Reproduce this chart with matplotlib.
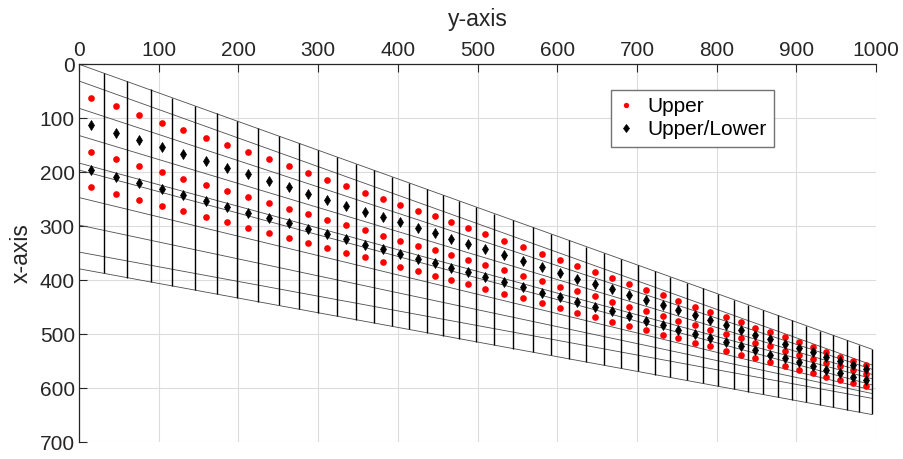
import numpy as np
import matplotlib
matplotlib.use("Agg")
from matplotlib import pyplot as plt

plt.rcParams['font.family'] = ['Liberation Sans', 'DejaVu Sans']

# column edges of the mesh (horizontal position) and the top / bottom line there
edge_x = [0, 31.0, 60.6, 90.0, 117.1, 144.9, 172.8, 198.6, 225.0, 250.6, 275.7, 299.5,
          323.3, 346.9, 369.8, 392.1, 413.7, 436.0, 456.1, 477.3, 497.7, 521.1, 544.9,
          569.3, 591.7, 614.3, 636.5, 658.3, 679.7, 701.0, 722.1, 742.0, 762.2, 782.3,
          801.4, 821.2, 839.0, 857.8, 876.4, 894.2, 911.8, 929.1, 945.4, 963.0, 978.9, 994.6]
edge_top = [0, 15.6, 30.9, 46.3, 62.3, 77.3, 90.8, 105.0, 118.6, 132.9, 146.5, 159.4,
            171.8, 184.1, 196.5, 208.2, 219.9, 231.0, 242.2, 253.4, 264.3, 276.7, 289.3,
            302.3, 314.2, 326.2, 338.0, 349.6, 360.9, 372.2, 383.4, 394.0, 404.7, 415.4,
            425.5, 436.1, 445.5, 455.5, 465.4, 474.8, 484.2, 493.4, 502.0, 511.4, 519.8, 528.1]
edge_bot = [379.0, 387.4, 395.4, 403.4, 410.8, 418.3, 425.9, 432.9, 440.1, 447.0, 453.8,
            460.3, 466.7, 473.1, 479.4, 485.4, 491.3, 497.3, 502.8, 508.5, 514.1, 520.4,
            526.9, 533.5, 539.6, 545.7, 551.7, 557.7, 563.5, 569.3, 575.0, 580.4, 585.9,
            591.3, 596.5, 601.9, 606.7, 611.8, 616.9, 621.7, 626.5, 631.2, 635.6, 640.4,
            644.7, 648.9]

# mesh layer lines: value at left end and at right end
line_left = [0, 31, 81.5, 132, 183, 196, 247, 298, 348, 379]
line_right = [528, 557, 565, 574.5, 582.5, 594, 603.5, 610, 619, 649]

# point columns
col_x = [15.5, 45.8, 75.3, 103.6, 131.0, 158.9, 185.7, 211.8, 237.8, 263.2, 287.6, 311.4,
         335.1, 358.4, 381.0, 402.9, 424.9, 446.1, 466.7, 487.5, 509.4, 533.0, 557.1,
         580.5, 603.0, 625.4, 647.4, 669.0, 690.4, 711.6, 732.1, 752.1, 772.3, 791.9,
         811.3, 830.1, 848.4, 867.1, 885.3, 903.0, 920.5, 937.3, 954.2, 971.0, 986.8]

upper_1 = [63, 78, 94, 108, 122, 136, 150, 163, 176, 189, 202, 214, 226, 238, 249, 261,
           272, 282, 293, 304, 315, 327, 339, 351, 362, 374, 385, 396, 407, 418, 428, 438,
           449, 459, 469, 478, 488, 497, 506, 515, 524, 533, 542, 550, 558]
upper_2 = [163, 176, 188, 200, 212, 224, 235, 246, 257, 268, 278, 288, 298, 308, 318, 327,
           336, 345, 354, 363, 372, 382, 392, 402, 412, 421, 430, 440, 449, 458, 466, 475,
           483, 492, 500, 508, 516, 523, 531, 539, 546, 553, 560, 567, 574]
upper_3 = [228, 240, 251, 262, 272, 283, 293, 303, 313, 322, 332, 341, 350, 358, 367, 375,
           384, 392, 400, 408, 416, 425, 434, 443, 451, 460, 468, 477, 485, 493, 501, 508,
           516, 523, 531, 538, 545, 552, 559, 566, 572, 579, 585, 591, 597]
ul_1 = [113, 127, 141, 154, 167, 180, 192, 204, 217, 228, 240, 251, 262, 273, 283, 293,
        304, 313, 323, 333, 343, 354, 365, 376, 386, 397, 407, 417, 427, 437, 447, 456,
        465, 474, 483, 492, 501, 509, 518, 526, 534, 542, 550, 558, 565]
ul_2 = [196, 208, 220, 231, 242, 254, 264, 275, 285, 295, 305, 315, 324, 334, 343, 351,
        360, 369, 377, 385, 394, 404, 413, 423, 432, 441, 450, 458, 467, 475, 483, 492,
        500, 507, 515, 523, 530, 538, 545, 552, 559, 566, 573, 579, 586]

fig = plt.figure(figsize=(9.04, 4.59), dpi=100)
ax = fig.add_axes([0.0874, 0.037, 0.8817, 0.823])

# mesh
for yl, yr in zip(line_left, line_right):
    ax.plot([edge_x[0], edge_x[-1]], [yl, yr], color='0.3', lw=0.6, zorder=2)
ax.vlines(edge_x[1:], edge_top[1:], edge_bot[1:], color='black', lw=1.0, zorder=2)

ax.plot(col_x * 3, upper_1 + upper_2 + upper_3, 'o', color='red', ms=4.8,
        mec='none', label='Upper', zorder=3)
ax.plot(col_x * 2, ul_1 + ul_2, 'd', color='black', ms=5.5, mec='black', mew=0.5,
        label='Upper/Lower', zorder=4)

ax.set_xlim(0, 1000)
ax.set_ylim(700, 0)
ax.set_xticks(np.arange(0, 1001, 100))
ax.set_yticks(np.arange(0, 701, 100))
ax.xaxis.tick_top()
ax.xaxis.set_label_position('top')
ax.set_xlabel('y-axis', fontsize=16.5, color='#262626', labelpad=11)
ax.set_ylabel('x-axis', fontsize=16.5, color='#262626', labelpad=5)
ax.tick_params(direction='in', length=6, width=0.8, labelsize=15, colors='#262626',
               pad=3)
ax.grid(True, color='#dcdcdc', lw=0.8)
ax.set_axisbelow(True)
for s in ['right', 'bottom']:
    ax.spines[s].set_visible(False)
for s in ['left', 'top']:
    ax.spines[s].set_color('#262626')
    ax.spines[s].set_linewidth(0.9)

leg = ax.legend(loc='upper left', bbox_to_anchor=(0.667, 0.932), fontsize=15,
                fancybox=False, framealpha=1, edgecolor='0.45', handlelength=0.8,
                handletextpad=0.6, borderpad=0.35, labelspacing=0.2,
                borderaxespad=0, markerscale=0.8)
leg.get_frame().set_linewidth(1.0)

fig.savefig('out.png', dpi=100)
